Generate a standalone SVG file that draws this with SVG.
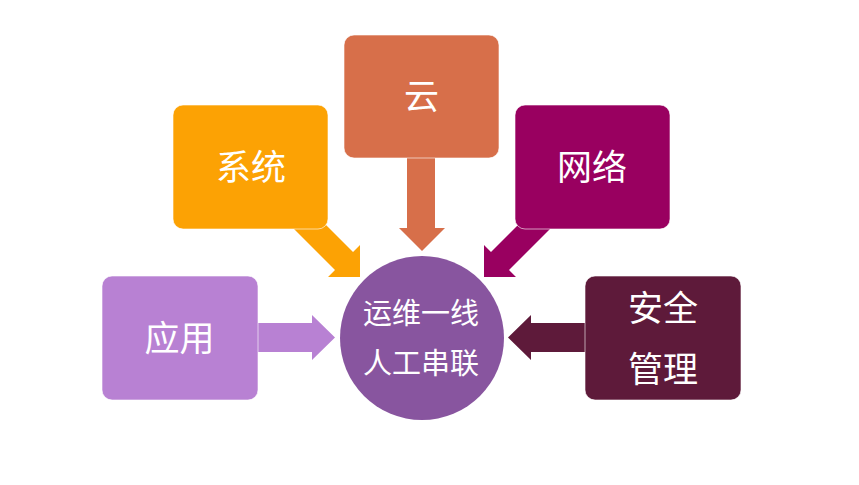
<svg xmlns="http://www.w3.org/2000/svg" width="859" height="485" viewBox="0 0 859 485">
  <style>
    .box { stroke: #ffffff; stroke-opacity: 0.6; stroke-width: 1; }
    .lbl { font-family: "Noto Sans CJK SC", "Noto Sans", sans-serif; fill: #ffffff; text-anchor: middle; font-size: 35px; }
    .ctr { font-size: 29px; }
  </style>
  <rect width="859" height="485" fill="#ffffff"/>
  <g id="connectors">
    <polygon fill="#D76F4A" points="407,150 435,150 435,228 445,228 422,251 399,228 407,228"/>
    <polygon fill="#FCA204" points="292.5,227.5 310.5,209.5 353,252 360,245 360,277 328,277 335,270"/>
    <polygon fill="#990060" points="551.5,227.5 533.5,209.5 491,252 484,245 484,277 516,277 509,270"/>
    <polygon fill="#B881D3" points="250,323 312,323 312,315 335,337.5 312,360 312,352 250,352"/>
    <polygon fill="#5E1A3A" points="593,323 531,323 531,315 508,337.5 531,360 531,352 593,352"/>
  </g>
  <g id="node-cloud">
    <rect class="box" x="344" y="35" width="155" height="123" rx="10" fill="#D76F4A"/>
    <text class="lbl" x="421.5" y="109">云</text>
  </g>
  <g id="node-system">
    <rect class="box" x="173" y="105" width="155" height="124" rx="10" fill="#FCA204"/>
    <text class="lbl" x="251" y="180">系统</text>
  </g>
  <g id="node-network">
    <rect class="box" x="515" y="105" width="155" height="124" rx="10" fill="#990060"/>
    <text class="lbl" x="592" y="180">网络</text>
  </g>
  <g id="node-app">
    <rect class="box" x="102" y="276" width="156" height="124" rx="10" fill="#B881D3"/>
    <text class="lbl" x="179.5" y="351">应用</text>
  </g>
  <g id="node-security">
    <rect class="box" x="585" y="276" width="156" height="124" rx="10" fill="#5E1A3A"/>
    <text class="lbl" x="663" y="321">安全</text>
    <text class="lbl" x="663" y="382">管理</text>
  </g>
  <g id="node-center">
    <circle cx="422" cy="338" r="82" fill="#88559F"/>
    <text class="lbl ctr" x="421" y="324">运维一线</text>
    <text class="lbl ctr" x="421" y="374">人工串联</text>
  </g>
</svg>
